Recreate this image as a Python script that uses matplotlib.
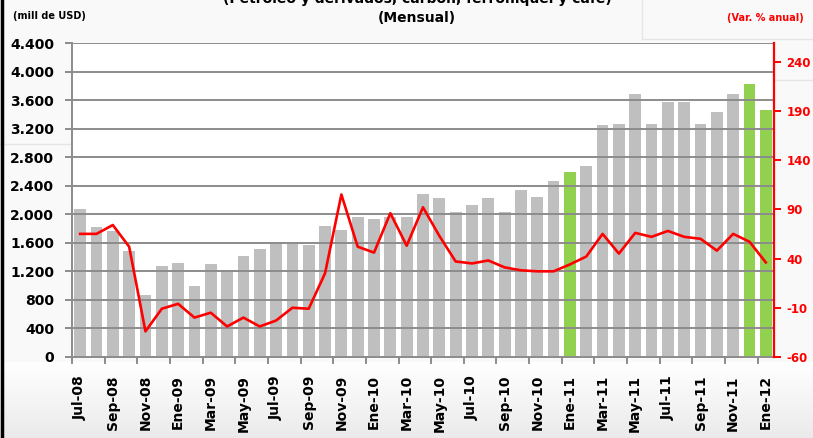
import numpy as np
import matplotlib
matplotlib.use("Agg")
import matplotlib.pyplot as plt
from matplotlib.lines import Line2D
from matplotlib.ticker import FuncFormatter

plt.rcParams["axes.unicode_minus"] = False

# Data
months = ["Jul-08", "Ago-08", "Sep-08", "Oct-08", "Nov-08", "Dic-08",
          "Ene-09", "Feb-09", "Mar-09", "Abr-09", "May-09", "Jun-09",
          "Jul-09", "Ago-09", "Sep-09", "Oct-09", "Nov-09", "Dic-09",
          "Ene-10", "Feb-10", "Mar-10", "Abr-10", "May-10", "Jun-10",
          "Jul-10", "Ago-10", "Sep-10", "Oct-10", "Nov-10", "Dic-10",
          "Ene-11", "Feb-11", "Mar-11", "Abr-11", "May-11", "Jun-11",
          "Jul-11", "Ago-11", "Sep-11", "Oct-11", "Nov-11", "Dic-11",
          "Ene-12"]

exports_musd = [2070, 1820, 1770, 1490, 870, 1280,
                1320, 1000, 1300, 1200, 1410, 1515,
                1605, 1605, 1570, 1840, 1780, 1960,
                1930, 1965, 1965, 2285, 2230, 2035,
                2130, 2230, 2035, 2340, 2250, 2465,
                2590, 2685, 3255, 3275, 3695, 3275,
                3580, 3580, 3275, 3430, 3695, 3825,
                3470]

var_anual = [65, 65, 74, 52, -34, -11,
             -6, -20, -15, -29, -20, -29,
             -23, -10, -11, 25, 105, 52,
             46, 86, 53, 92, 63, 37,
             35, 38, 31, 28, 27, 27,
             34, 42, 65, 45, 66, 62,
             68, 62, 60, 48, 65, 57,
             36]

highlight = ["Ene-11", "Dic-11", "Ene-12"]

left_ticks = [0, 400, 800, 1200, 1600, 2000, 2400, 2800, 3200, 3600, 4000, 4400]
right_ticks = [-60, -10, 40, 90, 140, 190, 240]

W, H = 813, 438


def fx(x):
    return x / W


def fy(y):
    return 1 - y / H


fig = plt.figure(figsize=(8.13, 4.38), dpi=100)
fig.patch.set_facecolor("#F9F9F9")

# soft gradient under the plot area (white -> light grey)
bg = fig.add_axes([0, 0, 1, fy(362)], zorder=-5)
shade = np.linspace(1.0, 0.92, 60)
grad = np.dstack([shade, shade, shade]).reshape(-1, 1, 3)
bg.imshow(grad, aspect="auto", extent=[0, 1, 0, 1])
bg.axis("off")

ax = fig.add_axes([fx(72), fy(357), fx(774) - fx(72), fy(43.3) - fy(357)])
ax.set_facecolor("white")

x = np.arange(len(months))
colors = ["#92D050" if m in highlight else "#BFBFBF" for m in months]
ax.bar(x, exports_musd, width=0.72, color=colors, zorder=2)

ax.set_xlim(-0.5, len(months) - 0.5)
ax.set_ylim(0, 4400)
ax.set_yticks(left_ticks)
ax.yaxis.set_major_formatter(FuncFormatter(lambda v, p: f"{int(v):,}".replace(",", ".")))
ax.grid(axis="y", color="#8C8C8C", linewidth=1.4, zorder=3)
ax.set_axisbelow(False)

# x ticks at category boundaries, labels on every other month
ax.set_xticks(np.arange(-0.5, len(months) - 0.5, 2))
ax.set_xticklabels([])
ax.set_xticks(x[::2], minor=True)
ax.set_xticklabels(months[::2], minor=True, rotation=90,
                   fontsize=10, fontweight="bold")
ax.tick_params(axis="x", which="major", length=5, width=1.4, color="#8C8C8C")
ax.tick_params(axis="x", which="minor", length=0, pad=13)
ax.tick_params(axis="y", length=5, width=1.4, color="#8C8C8C", pad=8,
               labelsize=10)
for lab in ax.get_yticklabels():
    lab.set_fontweight("bold")

for side in ["top", "right"]:
    ax.spines[side].set_visible(False)
for side in ["left", "bottom"]:
    ax.spines[side].set_color("#8C8C8C")
    ax.spines[side].set_linewidth(1.4)

ax2 = ax.twinx()
ax2.plot(x, var_anual, color="#FF0000", linewidth=1.9, zorder=5)
ax2.set_ylim(-60, 258.5)
ax2.set_yticks(right_ticks)
ax2.tick_params(axis="y", colors="#FF0000", length=5, width=1.4, pad=4,
                labelsize=8.5)
for lab in ax2.get_yticklabels():
    lab.set_fontweight("bold")
ax2.spines["right"].set_color("#FF0000")
ax2.spines["right"].set_linewidth(1.6)
for side in ["top", "left", "bottom"]:
    ax2.spines[side].set_visible(False)

# titles and unit labels
fig.text(fx(417), fy(3), "(Petróleo y derivados, carbón, ferroníquel y café)",
         ha="center", va="baseline", fontsize=10, fontweight="bold")
fig.text(fx(417), fy(18), "(Mensual)", ha="center", va="center",
         fontsize=10, fontweight="bold")
fig.text(fx(13), fy(16), "(mill de USD)", ha="left", va="center",
         fontsize=7, fontweight="bold")
fig.text(fx(765), fy(18), "(Var. % anual)", ha="center", va="center",
         fontsize=7, fontweight="bold", color="#FF0000")

# faint panel outlines and left border
faint = dict(color="#E6E6E6", linewidth=1.0, transform=fig.transFigure, zorder=-1)
fig.add_artist(Line2D([fx(0), fx(231)], [fy(144), fy(144)], **faint))
fig.add_artist(Line2D([fx(231), fx(231)], [fy(144), fy(80)], **faint))
fig.add_artist(Line2D([fx(231), fx(813)], [fy(80), fy(80)], **faint))
fig.add_artist(Line2D([fx(642), fx(642)], [fy(0), fy(39)], **faint))
fig.add_artist(Line2D([fx(642), fx(813)], [fy(39), fy(39)], **faint))
fig.add_artist(Line2D([fx(1.5), fx(1.5)], [0, 1], color="black", linewidth=2.5,
                      transform=fig.transFigure))

fig.savefig("out.png", dpi=100, facecolor=fig.get_facecolor())
